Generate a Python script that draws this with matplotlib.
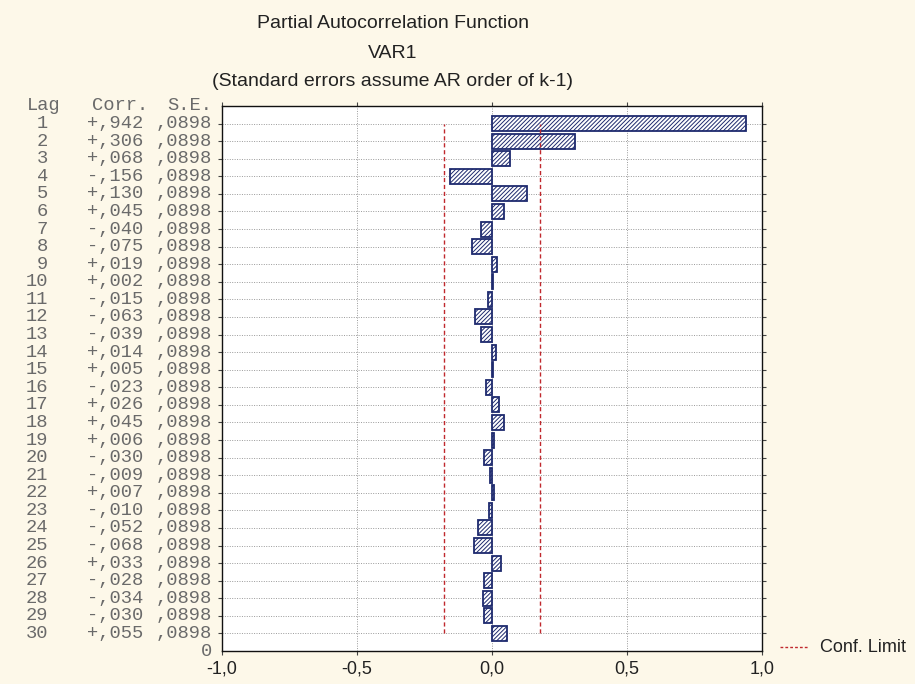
import numpy as np
import matplotlib
matplotlib.use("Agg")
import matplotlib.pyplot as plt
from matplotlib.lines import Line2D
from matplotlib.transforms import blended_transform_factory

lags = list(range(1, 31))
corr = [0.942, 0.306, 0.068, -0.156, 0.130, 0.045, -0.040, -0.075, 0.019, 0.002,
        -0.015, -0.063, -0.039, 0.014, 0.005, -0.023, 0.026, 0.045, 0.006, -0.030,
        -0.009, 0.007, -0.010, -0.052, -0.068, 0.033, -0.028, -0.034, -0.030, 0.055]
se = [0.0898] * 30
xticks = [-1.0, -0.5, 0.0, 0.5, 1.0]
xtick_labels = ["-1,0", "-0,5", "0,0", "0,5", "1,0"]
title_lines = ["Partial Autocorrelation Function", "VAR1",
               "(Standard errors assume AR order of k-1)"]

BG = "#fdf8e9"
NAVY = "#1e2a6e"
GREY_TXT = "#6a6a6a"
CONF = "#c0282d"
MONO = "Liberation Mono"
SANS = "Liberation Sans"

plt.rcParams["hatch.linewidth"] = 0.7

fig = plt.figure(figsize=(9.15, 6.84), dpi=100, facecolor=BG)
ax = fig.add_axes([222 / 915, 33 / 684, 540 / 915, 545 / 684])
ax.set_facecolor("white")

# lag k drawn at y = 31 - k, so lag 1 sits on top
ypos = [31 - k for k in lags]
ax.barh(ypos, corr, height=0.85, left=0, color="white", edgecolor=NAVY,
        hatch="////////", linewidth=1.3, zorder=3)

lim = 1.96 * se[0]
for x in (-lim, lim):
    ax.plot([x, x], [1, 30], ls=(0, (3, 2)), color=CONF, lw=1.0, zorder=4)

ax.set_xlim(-1, 1)
ax.set_ylim(0, 31)
ax.set_xticks(xticks)
ax.set_xticklabels(xtick_labels, fontfamily=SANS, fontsize=13, color="#222")
ax.set_yticks(ypos)
ax.set_yticklabels([])
ax.tick_params(axis="y", left=True, right=True, length=3, direction="out", color="#444")
ax.tick_params(axis="x", top=True, bottom=True, length=3, direction="out", color="#444",
               pad=4)
for x in (-0.5, 0.0, 0.5):
    ax.axvline(x, color="#9a9a9a", ls=(0, (1, 1.5)), lw=0.7, zorder=1)
for y in ypos:
    ax.axhline(y, color="#9a9a9a", ls=(0, (1, 1.5)), lw=0.7, zorder=1)
for s in ax.spines.values():
    s.set_color("#111")
    s.set_linewidth(1.0)

# text table to the left of the axis: x in figure pixels, y in data units
tr = blended_transform_factory(fig.dpi_scale_trans, ax.transData)
px = lambda p: p / 100.0
tkw = dict(transform=tr, fontfamily=MONO, fontsize=13.5, color=GREY_TXT, va="center")
ax.text(px(44), 31.05, "Lag", ha="center", **tkw)
ax.text(px(148), 31.05, "Corr.", ha="right", **tkw)
ax.text(px(212), 31.05, "S.E.", ha="right", **tkw)
for k, c, s_ in zip(lags, corr, se):
    y = 31 - k
    sign = "+" if c >= 0 else "-"
    ax.text(px(48), y, str(k), ha="right", **tkw)
    ax.text(px(143), y, sign + "," + f"{abs(c):.3f}"[2:], ha="right", **tkw)
    ax.text(px(212), y, "," + f"{s_:.4f}"[2:], ha="right", **tkw)
ax.text(px(212), 0, "0", ha="right", **tkw)

# title
for i, line in enumerate(title_lines):
    fig.text(393 / 915, 1 - (24 + 29 * i) / 684, line, ha="center", va="center",
             fontfamily=SANS, fontsize=14, color="#222")

# legend
fig.add_artist(Line2D([780 / 915, 808 / 915], [1 - 647 / 684] * 2, color=CONF,
                      ls=(0, (2, 1.5)), lw=1.0))
fig.text(820 / 915, 1 - 647 / 684, "Conf. Limit", ha="left", va="center",
         fontfamily=SANS, fontsize=13, color="#222")

fig.savefig("out.png", dpi=100, facecolor=BG)
